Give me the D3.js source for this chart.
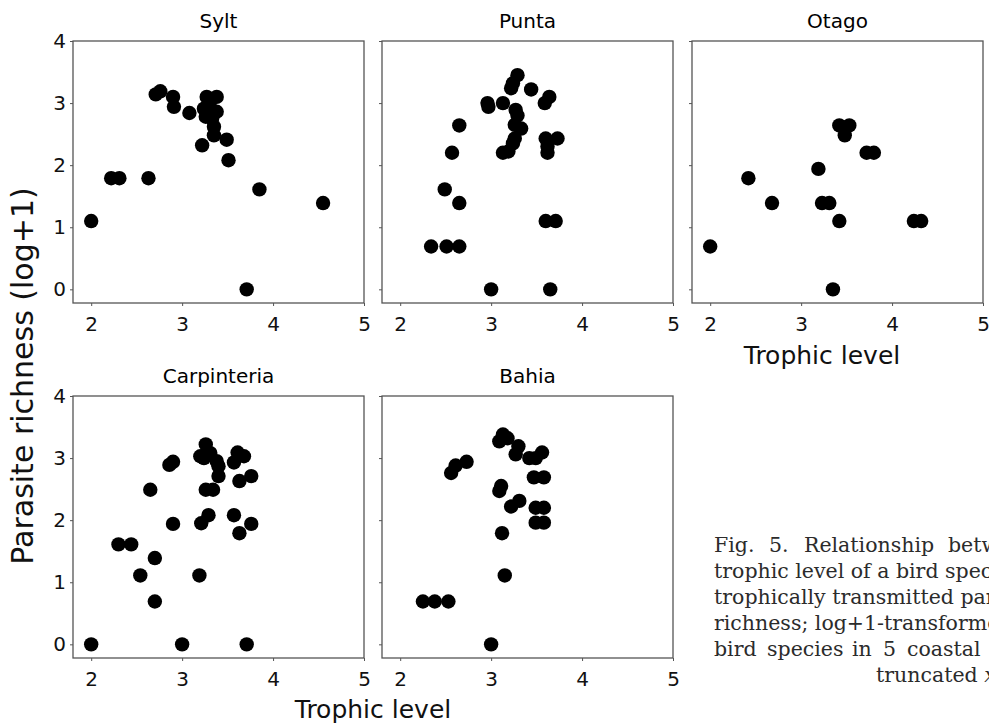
<!DOCTYPE html>
<html>
<head>
<meta charset="utf-8">
<script src="https://cdn.jsdelivr.net/npm/d3@7"></script>
<style>
  body { margin: 0; background: #fff; }
  .tick line { stroke: #555; }
  .tick text { font-family: "DejaVu Sans", sans-serif; font-size: 20px; fill: #111; }
</style>
</head>
<body>
<div id="chart"></div>
<script>
// trophic level (x) and parasite richness log+1 (y) per site
const syltTL = [2.0, 2.22, 2.31, 2.63, 2.71, 2.76, 2.90, 2.91, 3.08, 3.27, 3.38, 3.24, 3.30, 3.38, 3.33, 3.26, 3.35, 3.35, 3.22, 3.49, 3.51, 3.85, 4.55, 3.71];
const syltPR = [1.10, 1.79, 1.79, 1.79, 3.14, 3.19, 3.10, 2.94, 2.84, 3.10, 3.10, 2.91, 2.98, 2.86, 2.75, 2.78, 2.62, 2.48, 2.32, 2.41, 2.08, 1.61, 1.39, 0];

const puntaTL = [2.34, 2.51, 2.65, 2.49, 2.65, 2.57, 2.65, 2.96, 2.97, 3.13, 3.29, 3.24, 3.22, 3.44, 3.64, 3.59, 3.27, 3.29, 3.26, 3.33, 3.26, 3.24, 3.13, 3.19, 3.60, 3.73, 3.62, 3.62, 3.60, 3.71, 3.0, 3.65];
const puntaPR = [0.69, 0.69, 0.69, 1.61, 1.39, 2.20, 2.64, 3.00, 2.94, 3.00, 3.45, 3.32, 3.24, 3.22, 3.10, 3.00, 2.89, 2.80, 2.65, 2.59, 2.43, 2.35, 2.20, 2.22, 2.43, 2.43, 2.30, 2.20, 1.10, 1.10, 0, 0];

const otagoTL = [2.0, 2.42, 2.68, 3.19, 3.23, 3.31, 3.42, 3.35, 3.42, 3.53, 3.48, 3.72, 3.80, 4.24, 4.32];
const otagoPR = [0.69, 1.79, 1.39, 1.94, 1.39, 1.39, 1.10, 0, 2.64, 2.64, 2.48, 2.20, 2.20, 1.10, 1.10];

const carpTL = [2.0, 3.0, 3.71, 2.30, 2.44, 2.54, 2.70, 2.70, 2.65, 2.86, 2.90, 2.90, 3.19, 3.21, 3.29, 3.26, 3.34, 3.26, 3.20, 3.24, 3.31, 3.38, 3.40, 3.40, 3.57, 3.61, 3.68, 3.63, 3.76, 3.57, 3.63, 3.76];
const carpPR = [0, 0, 0, 1.61, 1.61, 1.11, 1.39, 0.69, 2.49, 2.89, 2.94, 1.94, 1.11, 1.95, 2.08, 2.49, 2.49, 3.22, 3.03, 3.00, 3.08, 2.95, 2.87, 2.71, 2.93, 3.09, 3.03, 2.63, 2.71, 2.08, 1.79, 1.94];

const bahiaTL = [2.25, 2.38, 2.53, 3.0, 3.15, 3.12, 3.11, 3.09, 3.22, 3.31, 2.56, 2.61, 2.73, 3.13, 3.09, 3.18, 3.30, 3.27, 3.42, 3.49, 3.56, 3.47, 3.58, 3.49, 3.58, 3.49, 3.58];
const bahiaPR = [0.69, 0.69, 0.69, 0, 1.11, 1.79, 2.55, 2.47, 2.22, 2.31, 2.76, 2.88, 2.94, 3.38, 3.27, 3.32, 3.19, 3.06, 3.00, 3.00, 3.09, 2.69, 2.69, 2.20, 2.20, 1.96, 1.96];

const sites = ["Sylt", "Punta", "Otago", "Carpinteria", "Bahia"];
const xTicks = [2, 3, 4, 5];
const yTicks = [0, 1, 2, 3, 4];

const captionLines = [
  ["Fig.", "5.", "Relationship", "betw"],
  ["trophic level of a bird speci"],
  ["trophically transmitted para"],
  ["richness; log+1-transforme"],
  ["bird", "species", "in", "5", "coastal"],
  ["truncated "]
];

const W = 989, H = 727;
const colLeft = [73, 382, 692];
const rowTop = [41, 396];
const pw = 291, ph = 262;

const panels = [
  { name: sites[0], tl: syltTL, pr: syltPR, col: 0, row: 0 },
  { name: sites[1], tl: puntaTL, pr: puntaPR, col: 1, row: 0 },
  { name: sites[2], tl: otagoTL, pr: otagoPR, col: 2, row: 0 },
  { name: sites[3], tl: carpTL, pr: carpPR, col: 0, row: 1 },
  { name: sites[4], tl: bahiaTL, pr: bahiaPR, col: 1, row: 1 }
];

const svg = d3.select("#chart")
  .append("svg")
  .attr("width", W)
  .attr("height", H);

const x = d3.scaleLinear().domain([1.8, 5]).range([0, pw]);
const y = d3.scaleLinear().domain([-0.22, 4]).range([ph, 0]);

panels.forEach(p => {
  const g = svg.append("g")
    .attr("transform", "translate(" + colLeft[p.col] + "," + rowTop[p.row] + ")");

  // X axis
  g.append("g")
    .attr("transform", "translate(0," + ph + ")")
    .call(d3.axisBottom(x).tickValues(xTicks).tickSize(3).tickPadding(11).tickFormat(d3.format("d")));

  // Y axis, labels only on the left column
  g.append("g")
    .call(d3.axisLeft(y).tickValues(yTicks).tickSize(3).tickPadding(4)
      .tickFormat(p.col === 0 ? d3.format("d") : () => ""));

  g.selectAll(".domain").remove();

  // frame
  g.append("rect")
    .attr("width", pw)
    .attr("height", ph)
    .attr("fill", "none")
    .attr("stroke", "#555")
    .attr("stroke-width", 1.3);

  // dots
  g.append("g")
    .selectAll("circle")
    .data(p.tl.map((t, i) => [t, p.pr[i]]))
    .enter()
    .append("circle")
    .attr("cx", d => x(d[0]))
    .attr("cy", d => y(d[1]))
    .attr("r", 7.2)
    .style("fill", "#000");

  // site name
  g.append("text")
    .attr("x", pw / 2)
    .attr("y", -13)
    .attr("text-anchor", "middle")
    .style("font-family", "DejaVu Sans, sans-serif")
    .style("font-size", "20px")
    .text(p.name);
});

// axis titles
const titleStyle = sel => sel
  .style("font-family", "DejaVu Sans, sans-serif")
  .style("font-size", "25px")
  .attr("text-anchor", "middle")
  .attr("fill", "#111");

svg.append("text")
  .attr("x", (colLeft[0] + colLeft[1] + pw) / 2)
  .attr("y", 718)
  .call(titleStyle)
  .text("Trophic level");

svg.append("text")
  .attr("x", 822)
  .attr("y", 364)
  .call(titleStyle)
  .text("Trophic level");

svg.append("text")
  .attr("transform", "translate(33,376) rotate(-90)")
  .call(titleStyle)
  .style("font-size", "30px")
  .text("Parasite richness (log+1)");

// caption (cut off at the right edge as in the source)
const wordX = {
  0: [714, 769, 804, 948],
  4: [714, 767, 852, 883, 907]
};
const cap = svg.append("g")
  .style("font-family", "DejaVu Serif, serif")
  .style("font-size", "20.5px")
  .attr("fill", "#2b2b2b");

captionLines.forEach((words, i) => {
  const t = cap.append("text").attr("y", 552 + i * 25.9);
  if (wordX[i]) {
    words.forEach((w, j) => t.append("tspan").attr("x", wordX[i][j]).text(w));
  } else if (i === captionLines.length - 1) {
    t.attr("x", 876).text(words[0]);
    t.append("tspan").style("font-style", "italic").text("x");
  } else {
    t.attr("x", 714).text(words[0]);
  }
});
</script>
</body>
</html>
